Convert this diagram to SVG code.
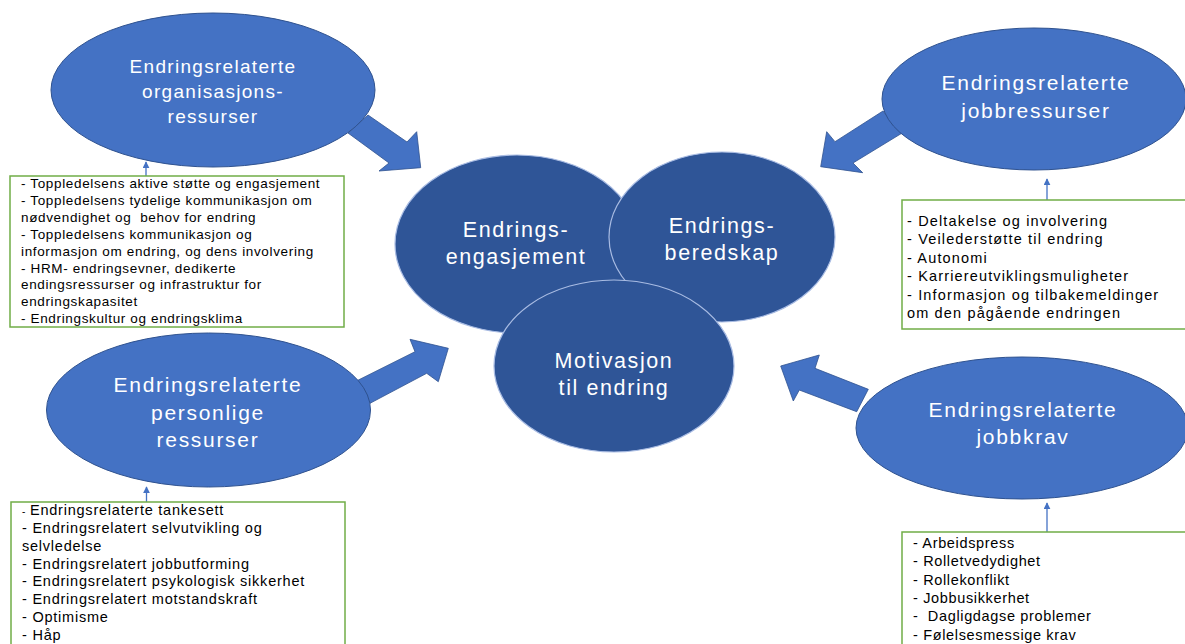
<svg xmlns="http://www.w3.org/2000/svg" width="1185" height="644" viewBox="0 0 1185 644">
  <style>
    .outer { fill: #4472C4; stroke: #2F528F; stroke-width: 1; }
    .core { fill: #2F5597; stroke: #A9BCE3; stroke-width: 1.2; }
    .block { fill: #4472C4; stroke: #2F528F; stroke-width: 0.8; }
    .link { stroke: #4472C4; stroke-width: 1.3; fill: none; marker-end: url(#tip); }
    .box { fill: #FFFFFF; stroke: #70AD47; stroke-width: 1.5; }
    .lbl { font-family: "Liberation Sans", Arial, sans-serif; fill: #FFFFFF; text-anchor: middle; }
    .lbl-s { font-size: 19px; letter-spacing: 1.3px; }
    .lbl-m { font-size: 21px; letter-spacing: 1.7px; }
    .lbl-c { font-size: 21.5px; letter-spacing: 1.6px; }
    .list { font-family: "Liberation Sans", Arial, sans-serif; fill: #000000; }
    .list1 { font-size: 13.5px; letter-spacing: 0.65px; }
    .list2 { font-size: 14.5px; letter-spacing: 0.77px; }
    .list3 { font-size: 14.5px; letter-spacing: 1.15px; }
    .list4 { font-size: 14.5px; letter-spacing: 0.65px; }
  </style>
  <defs>
    <marker id="tip" viewBox="0 0 10 10" refX="9" refY="5" markerWidth="7" markerHeight="7" markerUnits="userSpaceOnUse" orient="auto">
      <path d="M0,0 L10,5 L0,10 z" fill="#4472C4"/>
    </marker>
  </defs>

  <!-- connectors: block arrows into the core and thin arrows from the lists -->
  <g id="connectors">
    <polygon class="block" points="368,115 407,142 416.7,131.7 420.7,167.7 379,171 389,163 348,133"/>
    <polygon class="block" points="883,111 835,141.7 826.7,131.7 820.7,166.7 862.7,172.7 853,163 901.7,133.3"/>
    <polygon class="block" points="355,381.7 415,351.7 410,339.3 448.3,348.3 438.3,381.7 426.7,373.3 370,403.3"/>
    <polygon class="block" points="868.3,389.3 815,368.3 819.3,355 780.7,366 793.3,401 799.3,390 856.7,411.7"/>
    <line class="link" x1="146" y1="176" x2="146" y2="162"/>
    <line class="link" x1="146.5" y1="502" x2="146.5" y2="487"/>
    <line class="link" x1="1047" y1="200" x2="1047" y2="179"/>
    <line class="link" x1="1047" y1="532" x2="1047" y2="503"/>
  </g>

  <!-- outer resource / demand nodes -->
  <g id="org-resources">
    <ellipse class="outer" cx="213" cy="90" rx="162" ry="77"/>
    <text class="lbl lbl-s" x="213" y="73">Endringsrelaterte</text>
    <text class="lbl lbl-s" x="213" y="98">organisasjons-</text>
    <text class="lbl lbl-s" x="213" y="123">ressurser</text>
  </g>
  <g id="job-resources">
    <ellipse class="outer" cx="1034" cy="99" rx="152" ry="71"/>
    <text class="lbl lbl-m" x="1036" y="90">Endringsrelaterte</text>
    <text class="lbl lbl-m" x="1036" y="118">jobbressurser</text>
  </g>
  <g id="personal-resources">
    <ellipse class="outer" cx="208.5" cy="410" rx="162" ry="77"/>
    <text class="lbl lbl-m" x="208" y="392">Endringsrelaterte</text>
    <text class="lbl lbl-m" x="208" y="420">personlige</text>
    <text class="lbl lbl-m" x="208" y="447">ressurser</text>
  </g>
  <g id="job-demands">
    <ellipse class="outer" cx="1022" cy="428" rx="166" ry="71"/>
    <text class="lbl lbl-m" x="1023" y="417">Endringsrelaterte</text>
    <text class="lbl lbl-m" x="1023" y="444">jobbkrav</text>
  </g>

  <!-- core: three overlapping ellipses -->
  <g id="engagement">
    <ellipse class="core" cx="517" cy="244" rx="122" ry="89"/>
    <text class="lbl lbl-c" x="516" y="237">Endrings-</text>
    <text class="lbl lbl-c" x="516" y="264">engasjement</text>
  </g>
  <g id="readiness">
    <ellipse class="core" cx="722" cy="237" rx="113" ry="85"/>
    <text class="lbl lbl-c" x="722" y="233">Endrings-</text>
    <text class="lbl lbl-c" x="722" y="260">beredskap</text>
  </g>
  <g id="motivation">
    <ellipse class="core" cx="614" cy="366" rx="120" ry="86"/>
    <text class="lbl lbl-c" x="614" y="368">Motivasjon</text>
    <text class="lbl lbl-c" x="614" y="395">til endring</text>
  </g>

  <!-- lists -->
  <g id="org-resources-list">
    <rect class="box" x="10" y="176" width="334" height="151"/>
    <text class="list list1" xml:space="preserve">
      <tspan x="21" y="188">- Toppledelsens aktive støtte og engasjement</tspan>
      <tspan x="21" y="204.9">- Toppledelsens tydelige kommunikasjon om</tspan>
      <tspan x="21" y="221.8">nødvendighet og  behov for endring</tspan>
      <tspan x="21" y="238.7">- Toppledelsens kommunikasjon og</tspan>
      <tspan x="21" y="255.6">informasjon om endring, og dens involvering</tspan>
      <tspan x="21" y="272.5">- HRM- endringsevner, dedikerte</tspan>
      <tspan x="21" y="289.4">endingsressurser og infrastruktur for</tspan>
      <tspan x="21" y="306.3">endringskapasitet</tspan>
      <tspan x="21" y="323.2">- Endringskultur og endringsklima</tspan>
    </text>
  </g>
  <g id="personal-resources-list">
    <rect class="box" x="11" y="502" width="334" height="150"/>
    <text class="list list2">
      <tspan x="22" y="515" font-size="10">-</tspan><tspan x="30" y="515">Endringsrelaterte tankesett</tspan>
      <tspan x="22" y="532.9">- Endringsrelatert selvutvikling og</tspan>
      <tspan x="22" y="550.7">selvledelse</tspan>
      <tspan x="22" y="568.6">- Endringsrelatert jobbutforming</tspan>
      <tspan x="22" y="586.4">- Endringsrelatert psykologisk sikkerhet</tspan>
      <tspan x="22" y="604.3">- Endringsrelatert motstandskraft</tspan>
      <tspan x="22" y="622.1">- Optimisme</tspan>
      <tspan x="22" y="640">- Håp</tspan>
    </text>
  </g>
  <g id="job-resources-list">
    <rect class="box" x="902" y="200" width="290" height="129"/>
    <text class="list list3">
      <tspan x="907" y="226">- Deltakelse og involvering</tspan>
      <tspan x="907" y="244.4">- Veilederstøtte til endring</tspan>
      <tspan x="907" y="262.8">- Autonomi</tspan>
      <tspan x="907" y="281.2">- Karriereutviklingsmuligheter</tspan>
      <tspan x="907" y="299.6">- Informasjon og tilbakemeldinger</tspan>
      <tspan x="907" y="318">om den pågående endringen</tspan>
    </text>
  </g>
  <g id="job-demands-list">
    <rect class="box" x="902" y="532" width="290" height="120"/>
    <text class="list list4" xml:space="preserve">
      <tspan x="913" y="548">- Arbeidspress</tspan>
      <tspan x="913" y="566.3">- Rolletvedydighet</tspan>
      <tspan x="913" y="584.6">- Rollekonflikt</tspan>
      <tspan x="913" y="602.9">- Jobbusikkerhet</tspan>
      <tspan x="913" y="621.2">-  Dagligdagse problemer</tspan>
      <tspan x="913" y="639.5">- Følelsesmessige krav</tspan>
    </text>
  </g>
</svg>
